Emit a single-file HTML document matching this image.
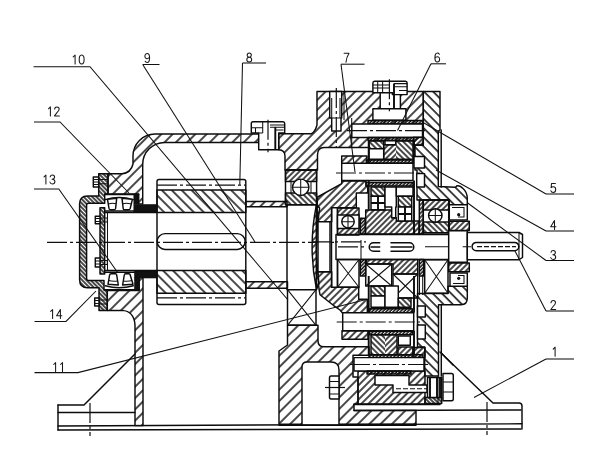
<!DOCTYPE html>
<html><head><meta charset="utf-8"><title>Reducer section</title>
<style>
html,body{margin:0;padding:0;background:#fff;}
body{width:600px;height:449px;overflow:hidden;font-family:"Liberation Sans",sans-serif;}
svg{display:block}
.l{stroke:#0c0c0c;stroke-width:1.45;fill:none;stroke-linejoin:round;stroke-linecap:round}
.k{stroke:#0c0c0c;stroke-width:1.9;fill:none;stroke-linejoin:round}
.g{stroke:#181818;stroke-width:1.05;fill:none;stroke-linecap:round;stroke-linejoin:round}
.t{stroke:#111;stroke-width:1.05;fill:none}
.c{stroke:#111;stroke-width:1.2;fill:none;stroke-dasharray:20 3 3 3}
.d{stroke:#111;stroke-width:1.1;fill:none;stroke-dasharray:5 2}
text{font-family:"Liberation Sans",sans-serif;fill:#1a1a1a;}
</style></head><body>
<svg width="600" height="449" viewBox="0 0 600 449">
<defs><pattern id="hA2" width="2" height="2" patternUnits="userSpaceOnUse" patternTransform="rotate(45)"><line x1="1" y1="-1" x2="1" y2="3" stroke="#0c0c0c" stroke-width="1.5"/></pattern><pattern id="hB2" width="2" height="2" patternUnits="userSpaceOnUse" patternTransform="rotate(-45)"><line x1="1" y1="-1" x2="1" y2="3" stroke="#0c0c0c" stroke-width="1.5"/></pattern><pattern id="hA2_5" width="2.5" height="2.5" patternUnits="userSpaceOnUse" patternTransform="rotate(45)"><line x1="1" y1="-1" x2="1" y2="3.5" stroke="#0c0c0c" stroke-width="1.5"/></pattern><pattern id="hB2_5" width="2.5" height="2.5" patternUnits="userSpaceOnUse" patternTransform="rotate(-45)"><line x1="1" y1="-1" x2="1" y2="3.5" stroke="#0c0c0c" stroke-width="1.5"/></pattern><pattern id="hA3" width="3" height="3" patternUnits="userSpaceOnUse" patternTransform="rotate(45)"><line x1="1" y1="-1" x2="1" y2="4" stroke="#0c0c0c" stroke-width="1.5"/></pattern><pattern id="hB3" width="3" height="3" patternUnits="userSpaceOnUse" patternTransform="rotate(-45)"><line x1="1" y1="-1" x2="1" y2="4" stroke="#0c0c0c" stroke-width="1.5"/></pattern><pattern id="hA3_5" width="3.5" height="3.5" patternUnits="userSpaceOnUse" patternTransform="rotate(45)"><line x1="1" y1="-1" x2="1" y2="4.5" stroke="#0c0c0c" stroke-width="1.5"/></pattern><pattern id="hB3_5" width="3.5" height="3.5" patternUnits="userSpaceOnUse" patternTransform="rotate(-45)"><line x1="1" y1="-1" x2="1" y2="4.5" stroke="#0c0c0c" stroke-width="1.5"/></pattern><pattern id="hA4" width="4" height="4" patternUnits="userSpaceOnUse" patternTransform="rotate(45)"><line x1="1" y1="-1" x2="1" y2="5" stroke="#0c0c0c" stroke-width="1.5"/></pattern><pattern id="hB4" width="4" height="4" patternUnits="userSpaceOnUse" patternTransform="rotate(-45)"><line x1="1" y1="-1" x2="1" y2="5" stroke="#0c0c0c" stroke-width="1.5"/></pattern><pattern id="hA4_5" width="4.5" height="4.5" patternUnits="userSpaceOnUse" patternTransform="rotate(45)"><line x1="1" y1="-1" x2="1" y2="5.5" stroke="#0c0c0c" stroke-width="1.5"/></pattern><pattern id="hB4_5" width="4.5" height="4.5" patternUnits="userSpaceOnUse" patternTransform="rotate(-45)"><line x1="1" y1="-1" x2="1" y2="5.5" stroke="#0c0c0c" stroke-width="1.5"/></pattern><pattern id="hA5" width="5" height="5" patternUnits="userSpaceOnUse" patternTransform="rotate(45)"><line x1="1" y1="-1" x2="1" y2="6" stroke="#0c0c0c" stroke-width="1.5"/></pattern><pattern id="hB5" width="5" height="5" patternUnits="userSpaceOnUse" patternTransform="rotate(-45)"><line x1="1" y1="-1" x2="1" y2="6" stroke="#0c0c0c" stroke-width="1.5"/></pattern><pattern id="hA5_5" width="5.5" height="5.5" patternUnits="userSpaceOnUse" patternTransform="rotate(45)"><line x1="1" y1="-1" x2="1" y2="6.5" stroke="#0c0c0c" stroke-width="1.5"/></pattern><pattern id="hB5_5" width="5.5" height="5.5" patternUnits="userSpaceOnUse" patternTransform="rotate(-45)"><line x1="1" y1="-1" x2="1" y2="6.5" stroke="#0c0c0c" stroke-width="1.5"/></pattern><pattern id="hA6" width="6" height="6" patternUnits="userSpaceOnUse" patternTransform="rotate(45)"><line x1="1" y1="-1" x2="1" y2="7" stroke="#0c0c0c" stroke-width="1.5"/></pattern><pattern id="hB6" width="6" height="6" patternUnits="userSpaceOnUse" patternTransform="rotate(-45)"><line x1="1" y1="-1" x2="1" y2="7" stroke="#0c0c0c" stroke-width="1.5"/></pattern><pattern id="hA6_5" width="6.5" height="6.5" patternUnits="userSpaceOnUse" patternTransform="rotate(45)"><line x1="1" y1="-1" x2="1" y2="7.5" stroke="#0c0c0c" stroke-width="1.5"/></pattern><pattern id="hB6_5" width="6.5" height="6.5" patternUnits="userSpaceOnUse" patternTransform="rotate(-45)"><line x1="1" y1="-1" x2="1" y2="7.5" stroke="#0c0c0c" stroke-width="1.5"/></pattern><pattern id="hA7" width="7" height="7" patternUnits="userSpaceOnUse" patternTransform="rotate(45)"><line x1="1" y1="-1" x2="1" y2="8" stroke="#0c0c0c" stroke-width="1.5"/></pattern><pattern id="hB7" width="7" height="7" patternUnits="userSpaceOnUse" patternTransform="rotate(-45)"><line x1="1" y1="-1" x2="1" y2="8" stroke="#0c0c0c" stroke-width="1.5"/></pattern><pattern id="hA7_5" width="7.5" height="7.5" patternUnits="userSpaceOnUse" patternTransform="rotate(45)"><line x1="1" y1="-1" x2="1" y2="8.5" stroke="#0c0c0c" stroke-width="1.5"/></pattern><pattern id="hB7_5" width="7.5" height="7.5" patternUnits="userSpaceOnUse" patternTransform="rotate(-45)"><line x1="1" y1="-1" x2="1" y2="8.5" stroke="#0c0c0c" stroke-width="1.5"/></pattern><pattern id="hA8" width="8" height="8" patternUnits="userSpaceOnUse" patternTransform="rotate(45)"><line x1="1" y1="-1" x2="1" y2="9" stroke="#0c0c0c" stroke-width="1.5"/></pattern><pattern id="hB8" width="8" height="8" patternUnits="userSpaceOnUse" patternTransform="rotate(-45)"><line x1="1" y1="-1" x2="1" y2="9" stroke="#0c0c0c" stroke-width="1.5"/></pattern><pattern id="hA9" width="9" height="9" patternUnits="userSpaceOnUse" patternTransform="rotate(45)"><line x1="1" y1="-1" x2="1" y2="10" stroke="#0c0c0c" stroke-width="1.5"/></pattern><pattern id="hB9" width="9" height="9" patternUnits="userSpaceOnUse" patternTransform="rotate(-45)"><line x1="1" y1="-1" x2="1" y2="10" stroke="#0c0c0c" stroke-width="1.5"/></pattern></defs>
<rect x="0" y="0" width="600" height="449" fill="#fff"/>
<path class="l" d="M58,426 L522,423.8" />
<path class="l" d="M58,430 L521,429" />
<path class="l" d="M58,405 V430" />
<path class="l" d="M58,405 H84 L135,354" />
<path class="l" d="M58,412.4 H135" />
<path class="c" d="M90,403 V436" />
<path class="l" d="M440,352 L493,403 H519 Q522,403 522,406 V429" />
<path class="l" d="M354,410.5 L521,410" />
<path class="l" d="M354,404.5 H440" />
<path class="c" d="M487,402 V435" />
<path class="l" d="M107.3,290.4 H139.2 V277 H143 V425.6 H135 V325 Q134,311 122,310.4 H107.3 Z" style="fill:url(#hA8)"/>
<path class="l" d="M108,173.7 H122 Q131,173 133,164 V156 A22,22 0 0 1 155,134 H258.7 V142.4 H164.7 A22,22 0 0 0 142.7,164.4 V204 H138.7 V194 H108 Z" style="fill:url(#hA8)"/>
<path class="c" d="M47,242.3 H365" />
<path class="l" d="M98.7,173.7 H108 V194 H104.7 V203.2 H88.6 Q86.6,203.2 86.6,205.2 V278.5 Q86.6,280.5 88.6,280.5 H104 V290 H107.3 V310.4 H99 V287.7 H87.5 Q79.6,287.7 79.6,279.7 V204 Q79.5,196 87.5,196 H98.7 Z" style="fill:url(#hB3)"/>
<path class="l" d="M93.3,177H98.7V187H93.3Z" style="fill:#fff"/>
<path class="t" d="M93.3,179.5 H98.7 M93.3,182 H98.7 M93.3,184.5 H98.7" />
<path class="t" d="M98.7,179.4 H108 M98.7,183.7 H108" />
<path class="l" d="M94.7,298H99V306H94.7Z" style="fill:#fff"/>
<path class="t" d="M94.7,300.5 H99 M94.7,303.5 H99" />
<path class="t" d="M99,300 H107.3 M99,304 H107.3" />
<path class="l" d="M100,207.7 H104.7 V274 H100 Z" style="fill:url(#hB3)"/>
<path class="l" d="M95.3,216.3H100V223.7H95.3Z" style="fill:#fff"/>
<path class="t" d="M95.3,218.5 H100 M95.3,221.5 H100" />
<path class="t" d="M100,218 H107.3 V222 H100" />
<path class="l" d="M95.3,258H100V267H95.3Z" style="fill:#fff"/>
<path class="t" d="M95.3,261 H100 M95.3,264 H100" />
<path class="t" d="M100,260.5 H107.3 V264.5 H100" />
<path class="l" d="M104.7,194.4 H138.7" />
<path class="l" d="M105.3,199.6 Q119,195.6 133.3,199.6" />
<path class="l" d="M105.3,211 H134" />
<path class="l" d="M107.5,199.4 L116.7,198.4 L115.6,208.5 Q115.4,209.7 114,209.7 H110.5 Q109.2,209.7 109,208.5 Z" style="fill:#fff"/>
<path class="t" d="M108.3,204 Q112,202.8 116,203.7" />
<path class="l" d="M122,198.4 L132.4,199.4 L130.2,208.5 Q130,209.7 128.8,209.7 H124.5 Q123.3,209.7 123.2,208.5 Z" style="fill:#fff"/>
<path class="t" d="M122.6,203.7 Q127,202.8 131.4,204" />
<path class="l" d="M104.7,289.6 H139" />
<path class="l" d="M105.3,285.8 Q119,289.6 133.3,285.8" />
<path class="l" d="M105.3,272.3 H134.5" />
<path class="l" d="M109.6,275 Q109.8,273.7 111,273.7 H115.3 Q116.5,273.7 116.7,275 L118.3,285 L108,284.3 Z" style="fill:#fff"/>
<path class="t" d="M108.6,280.5 Q113,281.8 117.6,281" />
<path class="l" d="M124.3,275 Q124.5,273.7 125.6,273.7 H129 Q130,273.7 130.2,275 L133,284.3 L122.6,285 Z" style="fill:#fff"/>
<path class="t" d="M123.2,281 Q128,281.8 132.2,280.5" />
<path d="M133.8,204.5H156.5V212H133.8Z" fill="#111" stroke="#111" stroke-width="0.6"/>
<path d="M133.8,194.4H138.4V204.3H133.8Z" fill="#111" stroke="#111" stroke-width="0.6"/>
<path d="M134.5,270.6H156.5V278H134.5Z" fill="#111" stroke="#111" stroke-width="0.6"/>
<path d="M134.5,278H139.2V289.6H134.5Z" fill="#111" stroke="#111" stroke-width="0.6"/>
<path class="l" d="M104.7,212.4 H157 M104.7,270.4 H157" />
<path class="t" d="M107.5,212.4 V270.4" />
<path class="l" d="M159,179.5 H243.8 Q245.8,179.5 245.8,181.5 V302.5 Q245.8,304.5 243.8,304.5 H159 Q157,304.5 157,302.5 V181.5 Q157,179.5 159,179.5 Z" />
<path class="c" d="M157,185.1 H245.8 M157,297.8 H245.8" />
<path class="l" d="M157,189.9H245.8V212.4H157Z" style="fill:url(#hB7)"/>
<path class="l" d="M157,270.5H245.8V293.2H157Z" style="fill:url(#hB7)"/>
<path class="l" d="M165,233.6 H237.3 A7.9,7.9 0 0 1 237.3,249.4 H165 A7.9,7.9 0 0 1 165,233.6 Z" />
<path class="l" d="M245.8,201.5H287V206.7H245.8Z" style="fill:url(#hA7)"/>
<path class="l" d="M245.8,281.7H287.5V288.3H245.8Z" style="fill:url(#hA7)"/>
<path class="l" d="M285.5,170H316.6V181.5H285.5Z" style="fill:url(#hA4)"/>
<path class="l" d="M285.5,193H316.6V204.7H285.5Z" style="fill:url(#hB4)"/>
<path class="l" d="M285.5,170H316.6V204.7H285.5Z" />
<path class="t" d="M291,181.5 V193 M311,181.5 V193" />
<circle class="l" cx="300.7" cy="187.3" r="8.2" style="fill:#fff"/>
<path class="t" d="M292.5,187.3 H308.9 M300.7,179.1 V195.5" />
<path class="l" d="M287.5,289.7H316V325.3H287.5Z" />
<path class="t" d="M287.5,289.7 L316,325.3 M316,289.7 L287.5,325.3" />
<path class="l" d="M287,204.7 V289.7 M316.3,204.7 V289.7" />
<path class="l" d="M278.7,133.7 H311.5 Q315,132 317,125 V91.5 H423.3 V145.3 H413.7 V140.7 H369 V147.5 H324 Q317.5,147.5 317.5,155 V170 H285 V156 Q285,150 278.7,149.7 Z" style="fill:url(#hA7)"/>
<path class="l" d="M253,121.7 H283 Q284.7,121.7 284.7,123.5 V133 H278.7 V149.7 H258.7 V133 H251.3 V123.5 Q251.3,121.7 253,121.7 Z" style="fill:#fff"/>
<path class="t" d="M251.3,127.7 H262.7 M255.5,127.7 V133 M258.7,133 H262.7" />
<path class="t" d="M262.7,122 V133" />
<path class="c" d="M268,119.7 V152.3" />
<path class="t" d="M270,125 H284.7 M270,127.3 H284.7 M275.3,130 H283.5" />
<path class="k" d="M275.3,127 V149.7" />
<path class="l" d="M329.7,91.5 H341.7 V118 H341 V131 H331.7 V118 H329.7 Z" style="fill:#fff"/>
<path class="t" d="M331.7,118 H341 M331.7,98 V118 M340,98 V118" />
<path class="c" d="M336.3,88 V147" />
<path class="l" d="M380.2,91.5H400.4V108.7H380.2Z" style="fill:#fff"/>
<path class="l" d="M372.9,108.7H405.9V120.3H372.9Z" style="fill:#fff"/>
<path class="l" d="M368,120.5H423V124H368Z" style="fill:url(#hA2_5)"/>
<path class="l" d="M351.7,124H422.5V137.5H351.7Z" style="fill:#fff"/>
<path class="l" d="M368,137.5H413.7V140.5H368Z" style="fill:url(#hA2_5)"/>
<path class="c" d="M347,130.7 H427" />
<path class="t" d="M351.7,118 V147.5 M344,91.5 V120" />
<path class="l" d="M374.5,81.2 H405.5 Q407.1,81.2 407.1,83 V94.6 H392.4 V92.8 H372.9 V83 Q372.9,81.2 374.5,81.2 Z" style="fill:#fff"/>
<path class="t" d="M372.9,84.9 H389 M372.9,87.9 H389 M377.7,81.2 V92.8 M382.6,81.2 V92.8" />
<path class="c" d="M389.4,79.3 V111.2" />
<path class="k" d="M394,83.6 V108.7" />
<path class="t" d="M394,83.6 H407.1 M394,86.7 H407.1 M399,90.4 H407.1" />
<path class="l" d="M287.5,325.3 H318 V341 Q318,346.7 324,346.7 H369 V355.3 H353 V377 H358 V404 H354 V410.4 H416 V424.3 H279 V351 L287.5,345 Z" style="fill:url(#hA8)"/>
<path class="l" d="M302,425 V367 Q302,362 307,362 H331 Q339,362 339,370 V425 Z" style="fill:#fff"/>
<path class="l" d="M279,425.2 H416" />
<path class="l" d="M331,376 H339 V399 H331 Q329.5,399 329.5,397 V378 Q329.5,376 331,376 Z" style="fill:#fff"/>
<path class="t" d="M329.5,381.5 H339 M329.5,394 H339" />
<path class="c" d="M325,387.5 H348" />
<path class="l" d="M358,371 H425 V404 H358 Z" style="fill:url(#hA5)"/>
<path class="l" d="M375,375.5 H409 V385 H427 V392.5 H393 V385 H375 Z" style="fill:#fff"/>
<path class="d" d="M396,388.7 H432" />
<path class="l" d="M413,347.5 H425 V357.6 H413 Z" style="fill:url(#hA4)"/>
<path class="l" d="M369,354.6H423V357.6H369Z" style="fill:url(#hA2_5)"/>
<path class="l" d="M354,357.6H424V371H354Z" style="fill:#fff"/>
<path class="l" d="M367,371H411V374H367Z" style="fill:url(#hA2_5)"/>
<path class="c" d="M350,364.5 H428" />
<path class="l" d="M423.3,91.5 H440 V130 L438.3,131 V186.5 L455.5,187.3 L457,185.8 Q460,185 463,188.5 Q467,192 467.3,198 V204.7 H449.3 V200 H417 V170 H415 V145.3 H423.3 Z" style="fill:url(#hB6_5)"/>
<path class="l" d="M441.2,130 V187.3" />
<path class="l" d="M417.5,293.5 H448 V286.3 H467.3 V298 Q467.3,304.7 461,304.7 H438.5 V376 H424.7 V347 H417.5 Z" style="fill:url(#hB6_5)"/>
<path class="l" d="M441.3,304.7 V376" />
<path class="l" d="M413.7,137.3H423.3V145.3H413.7Z" style="fill:url(#hA4)"/>
<path class="l" d="M341.7,156H367V164H341.7Z" style="fill:url(#hA5)"/>
<path class="l" d="M341.7,181 H366 V186 H367.7 V193 H356.3 V207.7 H331.7 V221.7 H318 Q316.5,208 317.7,197 L341.7,183.7 Z" style="fill:url(#hA5)"/>
<path class="l" d="M318,271.7 H331.7 V287.3 H358.7 V299.3 H367.3 V313.3 H342.7 L340,310 L333.3,305.3 L320,294.7 Q318,285 318,271.7 Z" style="fill:url(#hA5)"/>
<path class="l" d="M342,330.7H368V339.3H342Z" style="fill:url(#hA5)"/>
<path class="l" d="M316.5,204.3 Q307.7,247 316.5,289.7 L319,283 Q313.6,247 319.6,208 Z" style="fill:url(#hA5)"/>
<path class="l" d="M318,221.7H330V271.7H318Z" style="fill:#fff"/>
<path class="l" d="M331.5,207.7 V287.3 M337.5,207.7 V287.3" />
<path class="l" d="M336,234.5H448.7V259.5H336Z" style="fill:#fff"/>
<path class="t" d="M361,240 V259.5" />
<path class="c" d="M312,241.8 H366" />
<path class="c" d="M338,246.8 H366" />
<path class="l" d="M379.7,242.7 H373.5 A4.3,4.3 0 0 0 373.5,251.3 H379.7 M371,247 H379.7" />
<path class="l" d="M391,242.7 H409.5 A4.3,4.3 0 0 1 409.5,251.3 H391 M391,247 H412" />
<path class="l" d="M337.5,208H359V235H337.5Z" style="fill:url(#hA4)"/>
<path class="l" d="M337.5,215H359V228.5H337.5Z" style="fill:#fff"/>
<circle class="l" cx="348" cy="221.7" r="6.2" style="fill:#fff"/>
<path class="t" d="M341.8,221.7 H354.2 M348,215.5 V227.9" />
<path class="l" d="M337.5,259.5H359V287.3H337.5Z" />
<path class="t" d="M337.5,259.5 L359,287.3 M359,259.5 L337.5,287.3" />
<path class="l" d="M360.3,218.3H365.2V234H360.3Z" style="fill:url(#hA2_5)"/>
<path class="l" d="M360.3,259.5H365.7V276H360.3Z" style="fill:url(#hA2_5)"/>
<path class="l" d="M419.3,200H423.3V234H419.3Z" style="fill:url(#hA3)"/>
<path class="l" d="M419.3,259.5H423.7V276H419.3Z" style="fill:url(#hA2_5)"/>
<path class="t" d="M419.5,276 V295 M422.7,276 V295" />
<path class="l" d="M365.7,210 H391.7 V217.7 H396.3 V221 H419 V234 H365.7 Z" style="fill:url(#hA4)"/>
<path class="l" d="M366.3,259.5 H417.7 V274 H393 V264 H366.3 Z" style="fill:url(#hA4)"/>
<path class="l" d="M369,140.7H383.7V148.7H369Z" style="fill:url(#hB4)"/>
<path class="l" d="M369,148.7H383.7V159.3H369Z" style="fill:#fff"/>
<path d="M383.7,144.7H396V159.3H383.7Z" style="fill:url(#hA4);stroke:none"/>
<path d="M396,144.7 V140.7 H413 V159.3 H396 Z" style="fill:url(#hB4);stroke:none"/>
<path class="l" d="M383.7,144.7 V159.3 H413 V140.7 H395.7 V144.7 Z" />
<path class="l" d="M385,140.7H395.7V144.7H385Z" style="fill:#fff"/>
<path class="l" d="M366.3,160H413V163.3H366.3Z" style="fill:url(#hA2_5)"/>
<path class="l" d="M341.7,163.3H413V180.5H341.7Z" style="fill:#fff"/>
<path class="l" d="M366,182.5H413V186H366Z" style="fill:url(#hA2_5)"/>
<path class="c" d="M336,173 H420" />
<path class="l" d="M371,187H385V196.3H371Z" style="fill:url(#hB4)"/>
<path class="l" d="M371,196.3H385V209.7H371Z" style="fill:#fff"/>
<path class="k" d="M378,196.3 V209.7 M371,203 H385" />
<path class="l" d="M385,187 H396.3 V207 H395.7 V217.7 H391.7 V207 H385 Z" style="fill:#fff"/>
<path class="l" d="M396.3,187H413V196.3H396.3Z" style="fill:#fff"/>
<path class="l" d="M398.3,196.3H411.7V207H398.3Z" style="fill:url(#hB4)"/>
<path class="l" d="M398.3,207H411.7V221H398.3Z" style="fill:#fff"/>
<path class="k" d="M405,207 V221 M398.3,214 H411.7" />
<path class="k" d="M368.7,140.7 V163.3 M368.7,180.5 V209.7 M414,140.7 V163.3 M414,180.5 V234" />
<path class="k" d="M368.7,276 V312.7 M368.7,330.7 V355 M414,276 V312.7 M414,330.7 V355" />
<path class="l" d="M414,156.4H424.5V168H414Z" style="fill:#fff"/>
<path class="l" d="M416.7,173.6H424.5V187H416.7Z" style="fill:#fff"/>
<path class="l" d="M365.7,264H391.7V286H365.7Z" />
<path class="t" d="M365.7,264 L391.7,286 M391.7,264 L365.7,286" />
<path class="l" d="M393,274H417.7V298H393Z" />
<path class="t" d="M393,274 L417.7,298 M417.7,274 L393,298" />
<path class="l" d="M371,286H385V296H371Z" style="fill:url(#hB4)"/>
<path class="l" d="M371,296H385V307.3H371Z" style="fill:#fff"/>
<path class="l" d="M385,286H398.3V307.3H385Z" style="fill:#fff"/>
<path class="l" d="M398.3,298H411V307.3H398.3Z" style="fill:url(#hB4)"/>
<path class="l" d="M369.7,308.7H412.3V312.7H369.7Z" style="fill:url(#hA2_5)"/>
<path class="l" d="M342.7,312.7H413.7V330.7H342.7Z" style="fill:#fff"/>
<path class="l" d="M369.7,331.3H412.3V334.7H369.7Z" style="fill:url(#hA2_5)"/>
<path class="c" d="M336.7,322 H420" />
<path d="M371,334.7H385V355H371Z" style="fill:url(#hB4);stroke:none"/>
<path d="M385,334.7H397V355H385Z" style="fill:url(#hA4);stroke:none"/>
<path class="l" d="M371,334.7H397V355H371Z" />
<path class="l" d="M398.3,336H410.3V345.3H398.3Z" style="fill:#fff"/>
<path class="l" d="M398,347H413V355H398Z" style="fill:url(#hA4)"/>
<path class="l" d="M417.5,306H425.3V317H417.5Z" style="fill:#fff"/>
<path class="l" d="M417.5,325H425.3V339H417.5Z" style="fill:#fff"/>
<path class="l" d="M423.3,200H448.7V210H423.3Z" style="fill:url(#hA4)"/>
<path class="l" d="M423.3,222H448.7V232.7H423.3Z" style="fill:url(#hB4)"/>
<path class="l" d="M423.3,200H448.7V232.7H423.3Z" />
<circle class="l" cx="435.3" cy="215.5" r="6.7" style="fill:#fff"/>
<path class="t" d="M428.6,215.5 H442 M435.3,208.8 V222.2" />
<path class="l" d="M449.3,204.7H467.3V220H449.3Z" style="fill:#fff"/>
<path class="t" d="M452,207.5 H464 V217 H458" />
<circle cx="458.7" cy="214.7" r="1.6" fill="#111"/>
<path class="l" d="M449.3,221.3H469.3V230.5H449.3Z" style="fill:url(#hA4)"/>
<path class="l" d="M448.7,230.7H467.3V262.3H448.7Z" style="fill:#fff"/>
<path class="l" d="M467.3,232.5 H519 L522.5,234.5 V257.5 L519,259.7 H467.3 Z" style="fill:#fff"/>
<path class="t" d="M519,232.5 V259.7" />
<path class="l" d="M476.3,242.4 H514.6 A4.2,4.2 0 0 1 514.6,250.8 H476.3 A4.2,4.2 0 0 1 476.3,242.4 Z" />
<path class="t" d="M425,246.7 H448.7 M462.7,246.7 H471" />
<path class="d" d="M477,246.6 H516" />
<path class="l" d="M448.7,263H469.3V271.7H448.7Z" style="fill:url(#hA4)"/>
<path class="l" d="M450,273H467.3V286.3H450Z" style="fill:#fff"/>
<path class="t" d="M453,283.5 H464 V275.5 H458" />
<circle cx="458.7" cy="278.3" r="1.6" fill="#111"/>
<path class="l" d="M424.7,259.7H448V293.3H424.7Z" />
<path class="t" d="M424.7,259.7 L448,293.3 M448,259.7 L424.7,293.3" />
<path class="l" d="M443,373.5 H451.5 Q453.3,373.5 453.3,375.5 V399 Q453.3,400.8 451.5,400.8 H443 Z" style="fill:#fff"/>
<path class="t" d="M443,382 H453.3 M443,392 H453.3" />
<path class="l" d="M425,397.5 H441.7 V403.5 H425 Z" style="fill:url(#hB3)"/>
<path class="l" d="M427.5,377.5H441.7V397.5H427.5Z" style="fill:#fff"/>
<path class="k" d="M430,377.5 V397.5 M437,377.5 V397.5 M440,377.5 V397.5" />
<path class="t" d="M438,376 V404" />
<path class="l" d="M441.3,353 L453,365" />
<path class="t" d="M33.5,66.7 H90 L288,300" />
<path class="g" transform="translate(72.00,55.00) scale(1.000)" d="M1.2,1.9 L3.1,0 V9"/>
<path class="g" transform="translate(78.90,55.00) scale(1.000)" d="M2.75,0 C0.9,0 0.3,2 0.3,4.5 C0.3,7 0.9,9 2.75,9 C4.6,9 5.2,7 5.2,4.5 C5.2,2 4.6,0 2.75,0 Z"/>
<path class="t" d="M34,122 H60 L129,193" />
<path class="g" transform="translate(47.30,106.90) scale(1.000)" d="M1.2,1.9 L3.1,0 V9"/>
<path class="g" transform="translate(54.20,106.90) scale(1.000)" d="M0.5,2.2 C0.5,0.8 1.5,0 2.75,0 C4.2,0 5,0.9 5,2.2 C5,3.6 4,4.6 2.6,6 L0.3,9 H5.2"/>
<path class="t" d="M34,189 H58.8 L118,273" />
<path class="g" transform="translate(42.80,175.00) scale(1.000)" d="M1.2,1.9 L3.1,0 V9"/>
<path class="g" transform="translate(49.70,175.00) scale(1.000)" d="M0.5,1.8 C0.8,0.6 1.7,0 2.7,0 C4,0 4.9,0.8 4.9,2.1 C4.9,3.4 4,4.2 2.4,4.2 C4.2,4.2 5.2,5.1 5.2,6.5 C5.2,8 4.1,9 2.7,9 C1.4,9 0.5,8.3 0.2,7"/>
<path class="t" d="M34.5,321.4 H66 L96,291" />
<path class="g" transform="translate(49.50,309.50) scale(1.000)" d="M1.2,1.9 L3.1,0 V9"/>
<path class="g" transform="translate(56.40,309.50) scale(1.000)" d="M4,9 V0 L0.2,6.3 H5.4"/>
<path class="t" d="M34.5,372.6 H78 L367,299.3" />
<path class="g" transform="translate(52.50,362.60) scale(1.000)" d="M1.2,1.9 L3.1,0 V9"/>
<path class="g" transform="translate(59.40,362.60) scale(1.000)" d="M1.2,1.9 L3.1,0 V9"/>
<path class="t" d="M142.5,64.5 H159.5" />
<path class="t" d="M143,65 L255,242" />
<path class="g" transform="translate(144.50,53.50) scale(1.000)" d="M0.7,7.8 C1.1,8.6 1.8,9 2.6,9 C4.3,9 5.1,7.2 5.1,4.2 C5.1,1.4 4.2,0 2.7,0 C1.3,0 0.4,1.1 0.4,2.7 C0.4,4.2 1.3,5.2 2.6,5.2 C3.8,5.2 4.7,4.4 5.1,3.4"/>
<path class="t" d="M242.5,63 H266" />
<path class="t" d="M242.5,63 L239.8,184.8" />
<path class="g" transform="translate(246.50,53.00) scale(1.000)" d="M2.75,4.2 C1.5,4.2 0.7,3.3 0.7,2.1 C0.7,0.9 1.5,0 2.75,0 C4,0 4.8,0.9 4.8,2.1 C4.8,3.3 4,4.2 2.75,4.2 C4.2,4.2 5.2,5.2 5.2,6.6 C5.2,8 4.2,9 2.75,9 C1.3,9 0.3,8 0.3,6.6 C0.3,5.2 1.3,4.2 2.75,4.2 Z"/>
<path class="t" d="M546,194 H574" />
<path class="g" transform="translate(550.50,183.50) scale(1.000)" d="M4.9,0 H1 L0.6,4.2 C1.2,3.6 2,3.3 2.8,3.3 C4.3,3.3 5.2,4.5 5.2,6 C5.2,7.8 4.1,9 2.7,9 C1.5,9 0.6,8.3 0.3,7.2"/>
<path class="t" d="M546,231 H574" />
<path class="g" transform="translate(550.50,220.50) scale(1.000)" d="M4,9 V0 L0.2,6.3 H5.4"/>
<path class="t" d="M546,260.5 H574" />
<path class="g" transform="translate(550.50,250.50) scale(1.000)" d="M0.5,1.8 C0.8,0.6 1.7,0 2.7,0 C4,0 4.9,0.8 4.9,2.1 C4.9,3.4 4,4.2 2.4,4.2 C4.2,4.2 5.2,5.1 5.2,6.5 C5.2,8 4.1,9 2.7,9 C1.4,9 0.5,8.3 0.2,7"/>
<path class="t" d="M546,311 H574" />
<path class="g" transform="translate(550.50,300.50) scale(1.000)" d="M0.5,2.2 C0.5,0.8 1.5,0 2.75,0 C4.2,0 5,0.9 5,2.2 C5,3.6 4,4.6 2.6,6 L0.3,9 H5.2"/>
<path class="t" d="M546,359 H574" />
<path class="g" transform="translate(552.00,347.20) scale(1.000)" d="M1.2,1.9 L3.1,0 V9"/>
<path class="t" d="M546,194 L424,123" />
<path class="t" d="M546,231 L436,170" />
<path class="t" d="M546,260.5 L467,202.5" />
<path class="t" d="M546,311 L515,251" />
<path class="t" d="M546,359 L474,397.5" />
<path class="t" d="M341,64.2 H364.5" />
<path class="g" transform="translate(343.80,53.30) scale(1.000)" d="M0.3,0 H5.2 C3.6,2.5 2.5,5.5 2.2,9"/>
<path class="t" d="M341,64.2 L355,172" />
<path class="t" d="M431,63.8 H446" />
<path class="g" transform="translate(434.50,53.00) scale(1.000)" d="M4.8,1.2 C4.4,0.4 3.7,0 2.9,0 C1.2,0 0.4,1.8 0.4,4.8 C0.4,7.6 1.3,9 2.8,9 C4.2,9 5.1,7.9 5.1,6.3 C5.1,4.8 4.2,3.8 2.9,3.8 C1.7,3.8 0.8,4.6 0.4,5.6"/>
<path class="t" d="M431,63.8 L397.5,130.5" />
</svg>
</body></html>
